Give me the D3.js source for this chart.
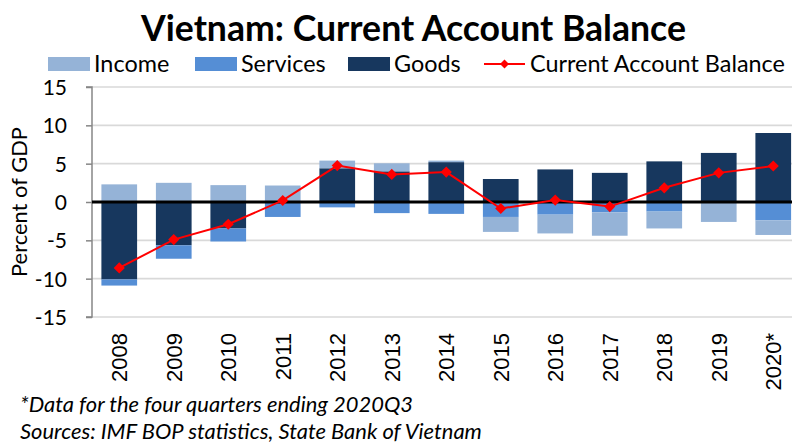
<!DOCTYPE html>
<html>
<head>
<meta charset="utf-8">
<script src="https://cdn.jsdelivr.net/npm/d3@7"></script>
<style>
  html, body { margin: 0; padding: 0; background: #fff; }
  svg { display: block; }
</style>
</head>
<body>
<svg id="chart" width="792" height="444"></svg>
<script>
// Vietnam current account balance and its components, percent of GDP
const years    = ["2008","2009","2010","2011","2012","2013","2014","2015","2016","2017","2018","2019","2020*"];
const goods    = [-10.1, -5.65, -3.45, 0.1, 4.4, 4.0, 5.2, 3.0, 4.25, 3.8, 5.3, 6.4, 9.0];
const services = [-0.8, -1.75, -1.7, -1.95, -0.7, -1.45, -1.55, -1.95, -1.65, -1.35, -1.25, 0.0, -2.4];
const income   = [2.3, 2.5, 2.2, 2.05, 1.0, 1.05, 0.2, -1.95, -2.45, -3.05, -2.2, -2.6, -1.9];
const cab      = [-8.6, -4.9, -2.9, 0.2, 4.75, 3.6, 3.9, -0.85, 0.25, -0.6, 1.85, 3.8, 4.7];
const yTicks   = [-15, -10, -5, 0, 5, 10, 15];

const titleText = "Vietnam: Current Account Balance";
const yTitle = "Percent of GDP";
const notes = ["*Data for the four quarters ending 2020Q3",
               "Sources: IMF BOP statistics, State Bank of Vietnam"];

const colors = { income: "#95b3d7", services: "#558ed5", goods: "#17375e", cab: "#ff0000" };
const uiFont = "Lato, 'Open Sans', sans-serif";

const svg = d3.select("#chart");
svg.append("rect").attr("width", 792).attr("height", 444).attr("fill", "#fff");

const plot = { left: 92, right: 800.5, top: 87, bottom: 317 };

const x = d3.scaleBand().domain(years)
  .range([plot.left, plot.right])
  .paddingInner(0.345).paddingOuter(0.1725);
const y = d3.scaleLinear().domain([-15, 15]).range([plot.bottom, plot.top]);

// shrink or grow a text element's font size so it spans the given width
function fit(sel, width) {
  const node = sel.node();
  const fs = parseFloat(sel.attr("font-size"));
  const w = node.getComputedTextLength();
  sel.attr("font-size", (fs * width / w).toFixed(2));
  return sel;
}

// gridlines
svg.append("g").selectAll("line")
  .data(yTicks.filter(d => d !== 0))
  .join("line")
  .attr("x1", plot.left).attr("x2", 792)
  .attr("y1", d => y(d)).attr("y2", d => y(d))
  .attr("stroke", "#d9d9d9").attr("stroke-width", 1.6);

// stacked bars: goods, then services, then income, diverging from zero
const rows = years.map((yr, i) => ({ year: yr, goods: goods[i], services: services[i], income: income[i] }));
const stack = d3.stack().keys(["goods", "services", "income"]).offset(d3.stackOffsetDiverging);
const series = stack(rows);

svg.append("g").selectAll("g")
  .data(series)
  .join("g")
  .attr("fill", s => colors[s.key])
  .selectAll("rect")
  .data(s => s)
  .join("rect")
  .attr("x", d => x(d.data.year))
  .attr("width", x.bandwidth())
  .attr("y", d => y(Math.max(d[0], d[1])))
  .attr("height", d => Math.abs(y(d[0]) - y(d[1])));

// y axis (plain hyphen for negative labels)
const yAxis = d3.axisLeft(y).tickValues(yTicks).tickSize(6).tickFormat(d => String(d));
const ya = svg.append("g").attr("transform", `translate(${plot.left},0)`).call(yAxis);
ya.select(".domain").attr("stroke", "#868686").attr("stroke-width", 1.5).attr("d", `M-6,${plot.top}H0V${plot.bottom}H-6`);
ya.selectAll(".tick line").attr("stroke", "#868686").attr("stroke-width", 1.5);
ya.selectAll(".tick text")
  .attr("x", -25).attr("dy", "0.36em")
  .attr("font-family", uiFont).attr("font-size", 21).attr("fill", "#000");

// zero line
svg.append("line")
  .attr("x1", plot.left).attr("x2", 792)
  .attr("y1", y(0)).attr("y2", y(0))
  .attr("stroke", "#000").attr("stroke-width", 3);

// current account balance line with diamond markers
const line = d3.line().x((d, i) => x(years[i]) + x.bandwidth() / 2).y(d => y(d));
svg.append("path").datum(cab)
  .attr("d", line).attr("fill", "none")
  .attr("stroke", colors.cab).attr("stroke-width", 2);
const diamond = d3.symbol().type(d3.symbolSquare).size(62);
svg.append("g").selectAll("path")
  .data(cab)
  .join("path")
  .attr("d", diamond)
  .attr("transform", (d, i) => `translate(${x(years[i]) + x.bandwidth() / 2},${y(d)}) rotate(45)`)
  .attr("fill", colors.cab);

// x labels
svg.append("g").selectAll("text")
  .data(years)
  .join("text")
  .attr("transform", d => `translate(${x(d) + x.bandwidth() / 2},333) rotate(-90)`)
  .attr("text-anchor", "end").attr("dy", "0.36em")
  .attr("font-family", "'Liberation Sans', Arial, sans-serif").attr("font-size", 22)
  .text(d => d);

// y axis title
const yt = svg.append("text")
  .attr("transform", "translate(27,202) rotate(-90)")
  .attr("text-anchor", "middle")
  .attr("font-family", uiFont).attr("font-size", 21)
  .text(yTitle);
fit(yt, 150);

// title
const tt = svg.append("text")
  .attr("x", 413.5).attr("y", 41)
  .attr("text-anchor", "middle")
  .attr("font-family", uiFont).attr("font-weight", "bold").attr("font-size", 32)
  .text(titleText);
fit(tt, 545);

// legend
const legendItems = [
  { label: "Income", key: "income", x: 48 },
  { label: "Services", key: "services", x: 195 },
  { label: "Goods", key: "goods", x: 348 },
  { label: "Current Account Balance", key: "cab", x: 484 }
];
const lg = svg.append("g");
const legendY = 64;
let legendFont = 21;
{
  const probe = lg.append("text").attr("font-family", uiFont).attr("font-size", 21).text(legendItems[3].label);
  fit(probe, 255);
  legendFont = parseFloat(probe.attr("font-size"));
  probe.remove();
}
legendItems.forEach(it => {
  if (it.key === "cab") {
    lg.append("line").attr("x1", it.x).attr("x2", it.x + 41)
      .attr("y1", legendY).attr("y2", legendY)
      .attr("stroke", colors.cab).attr("stroke-width", 2);
    lg.append("path").attr("d", d3.symbol().type(d3.symbolSquare).size(40))
      .attr("transform", `translate(${it.x + 20.5},${legendY}) rotate(45)`)
      .attr("fill", colors.cab);
  } else {
    lg.append("rect").attr("x", it.x).attr("y", legendY - 7)
      .attr("width", 42).attr("height", 14).attr("fill", colors[it.key]);
  }
  lg.append("text").attr("x", it.x + 46).attr("y", legendY).attr("dy", "0.36em")
    .attr("font-family", uiFont).attr("font-size", legendFont)
    .text(it.label);
});

// footnotes
const n2 = svg.append("text").attr("x", 20).attr("y", 439)
  .attr("font-family", uiFont).attr("font-style", "italic").attr("font-size", 20)
  .text(notes[1]);
fit(n2, 462);
svg.append("text").attr("x", 20).attr("y", 412)
  .attr("font-family", uiFont).attr("font-style", "italic").attr("font-size", n2.attr("font-size"))
  .text(notes[0]);
</script>
</body>
</html>
